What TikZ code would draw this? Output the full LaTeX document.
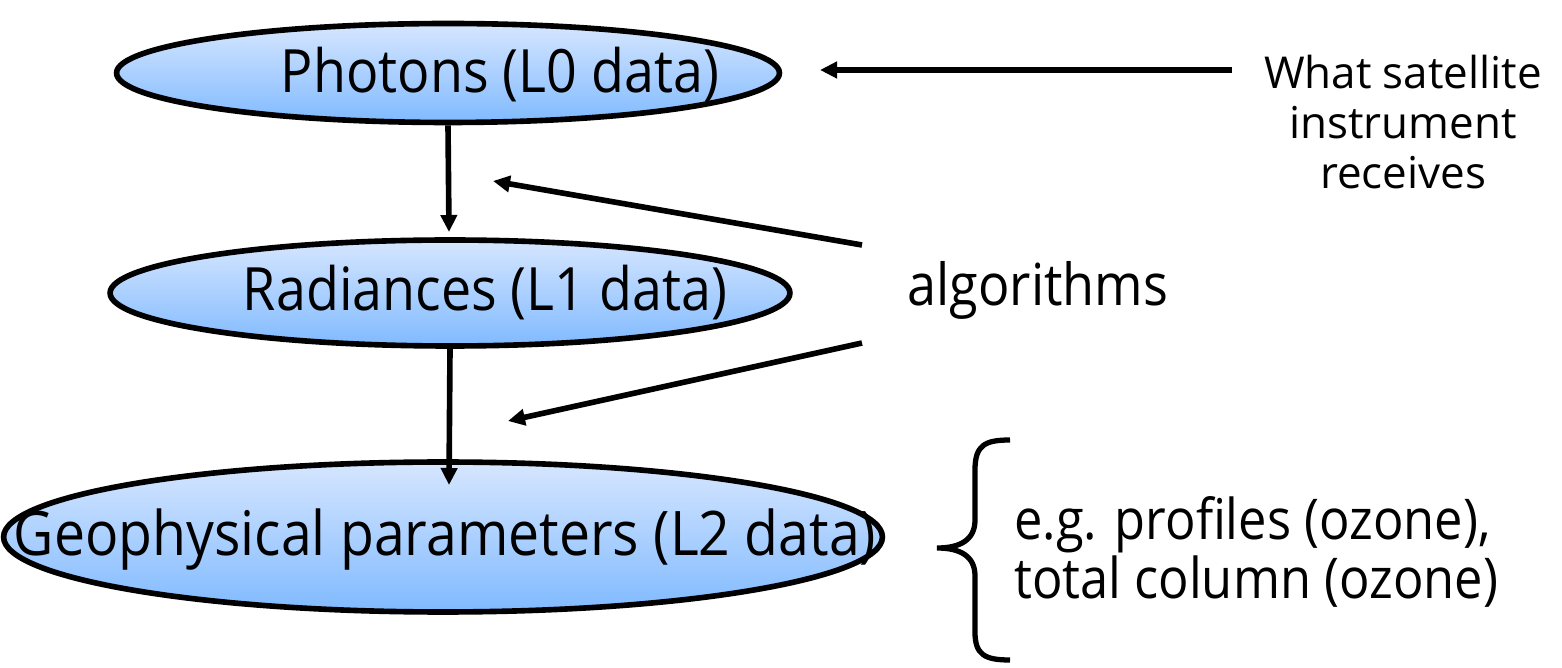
\documentclass[tikz,border=0pt]{standalone}
\usepackage{fontspec}
\setmainfont[FakeStretch=0.9]{Open Sans}
\newfontfamily\satfont{Open Sans}
\usetikzlibrary{shapes.geometric,arrows.meta}
\definecolor{lvltop}{RGB}{214,230,255}
\definecolor{lvlbot}{RGB}{128,186,255}

\begin{document}
\begin{tikzpicture}[x=0.02cm,y=-0.02cm,
    level/.style={ellipse,draw=black,line width=3.2pt,top color=lvltop,bottom color=lvlbot,inner sep=0pt},
    arr/.style={line width=3.2pt,-{Triangle[length=0.34cm,width=0.32cm]}},
    big/.style={font=\fontsize{34}{40}\selectfont},
    small/.style={font=\satfont\fontsize{25}{28.5}\selectfont,align=center}]
\useasboundingbox (0,0) rectangle (1562,668);
% data levels
\node[level,minimum width=13.26cm,minimum height=1.98cm] (ph) at (448,73) {};
\node[level,minimum width=13.6cm,minimum height=2.12cm] (rad) at (450,293) {};
\node[level,minimum width=17.58cm,minimum height=3cm] (geo) at (443,537) {};
\node[big] (phtxt) at (500,75) {Photons (L0 data)};
\node[big] (radtxt) at (485,293) {Radiances (L1 data)};
\node[big,font=\fontsize{35}{40}\selectfont] (geotxt) at (445,540) {Geophysical parameters (L2 data)};
% side texts
\node[small] (sat) at (1403,122) {What satellite\\instrument\\receives};
\node[big,font=\fontsize{33}{40}\selectfont] (alg) at (1038,290) {algorithms};
\node[big,font=\fontsize{32}{34}\selectfont,align=left,anchor=west] (eg) at (1008,552) {e.g. profiles (ozone),\\total column (ozone)};
% arrows
\coordinate (satend) at (1232,70);
\coordinate (phin) at (820,70);
\coordinate (alga) at (862,245);
\coordinate (algb) at (862,343);
\coordinate (up) at (493,181);
\coordinate (down) at (508,421);
\coordinate (radtop) at (449,232);
\coordinate (geoin) at (449,485);
\draw[arr] (satend) -- (phin);
\draw[arr] (ph.south) -- (radtop);
\draw[arr] (rad.south) -- (geoin);
\draw[arr] (alga) -- (up);
\draw[arr] (algb) -- (down);
% brace
\draw[line width=3pt] (1010,440) .. controls (985,440) and (975,445) .. (975,470)
  -- (975,520) .. controls (975,540) and (960,548) .. (937,548)
  .. controls (960,548) and (975,556) .. (975,576)
  -- (975,632) .. controls (975,655) and (985,660) .. (1010,660);
\end{tikzpicture}
\end{document}
